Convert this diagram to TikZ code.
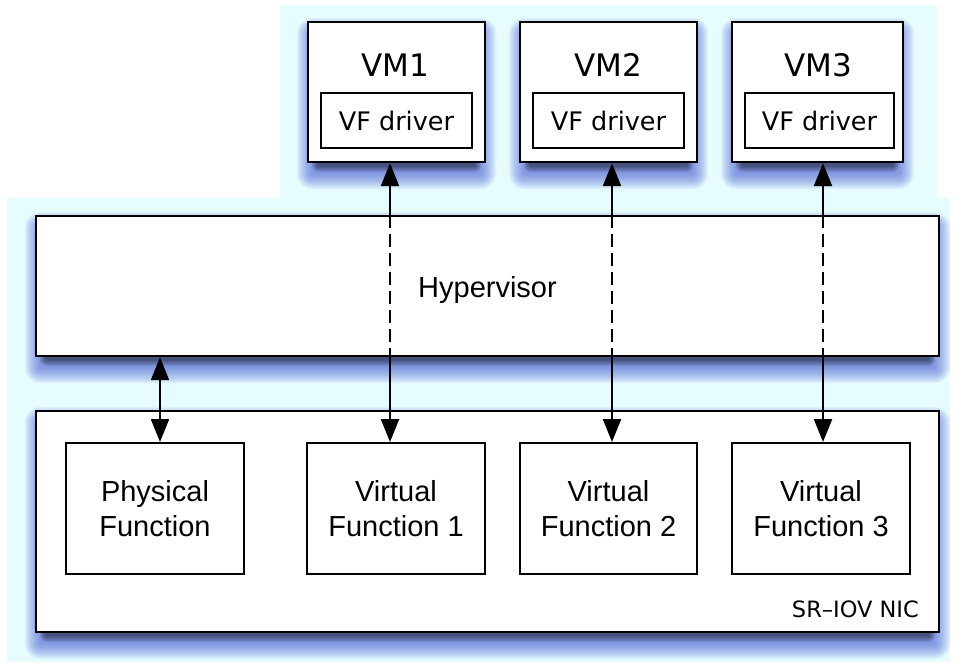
\documentclass[tikz,border=0pt]{standalone}
\usepackage{fontspec}
\setmainfont{Liberation Sans}
\newfontfamily\vera{DejaVu Sans}
\usetikzlibrary{arrows.meta,calc}

\definecolor{glow}{RGB}{230,252,255}
\definecolor{shadeblue}{RGB}{80,100,215}
\definecolor{shadedark}{RGB}{25,30,50}

\pgfdeclarelayer{backdrop}
\pgfdeclarelayer{shadowlayer}
\pgfsetlayers{backdrop,shadowlayer,main}

\tikzset{
  panel/.style={draw=black, line width=2.4pt, fill=white, inner sep=0pt},
  subbox/.style={draw=black, line width=2pt, fill=white, inner sep=0pt},
  link/.style={line width=2.3pt, draw=black},
  tipend/.style={-{Triangle[length=23pt,width=18pt]}},
  tipboth/.style={{Triangle[length=23pt,width=18pt]}-{Triangle[length=23pt,width=18pt]}},
  virt/.style={dash pattern=on 13pt off 6pt},
  helv/.style={font=\fontsize{29}{35}\selectfont, align=center, inner sep=0pt},
  vmtitle/.style={font=\vera\fontsize{31}{34}\selectfont, inner sep=0pt, anchor=base},
  drvtext/.style={font=\vera\fontsize{25.5}{30}\selectfont, inner sep=0pt, anchor=base},
}

% soft drop shadow below a named node: a wide blue haze and a narrow dark core
\newcommand\castshadow[1]{%
  \foreach \r in {1,...,16}{
    \fill[shadeblue, opacity=0.06, rounded corners=\r pt]
      ($(#1.north west)+(6-\r,13-\r)$) rectangle ($(#1.south east)+(-6+\r,10+\r)$);
  }%
  \foreach \r in {1,...,7}{
    \fill[shadedark, opacity=0.11, rounded corners=\r pt]
      ($(#1.south west)+(12-\r,-4)$) rectangle ($(#1.south east)+(-12+\r,2+\r)$);
  }%
}

\begin{document}
\begin{tikzpicture}[x=1pt,y=-1pt]
\useasboundingbox (0,0) rectangle (957,668);

% light glow behind the whole stack
\begin{pgfonlayer}{backdrop}
  \fill[glow] (280,5) rectangle (937,198.5);
  \fill[glow] (7,198) rectangle (950,662);
\end{pgfonlayer}

% virtual machines
\node[panel, minimum width=177pt, minimum height=140pt] (vm1) at (396.5,92) {};
\node[panel, minimum width=177pt, minimum height=140pt] (vm2) at (608.5,92) {};
\node[panel, minimum width=171pt, minimum height=140pt] (vm3) at (817.5,92) {};
\node[vmtitle] (vm1t) at (395,77) {VM1};
\node[vmtitle] (vm2t) at (608.5,77) {VM2};
\node[vmtitle] (vm3t) at (818,77) {VM3};
\node[subbox, minimum width=151pt, minimum height=55pt] (drv1) at (396.5,120.5) {};
\node[subbox, minimum width=151pt, minimum height=55pt] (drv2) at (608.5,120.5) {};
\node[subbox, minimum width=149pt, minimum height=55pt] (drv3) at (819.5,120.5) {};
\node[drvtext] (drv1t) at (396.5,131) {VF driver};
\node[drvtext] (drv2t) at (608.5,131) {VF driver};
\node[drvtext] (drv3t) at (819.5,131) {VF driver};

% hypervisor layer
\node[panel, minimum width=903pt, minimum height=140pt] (hyp) at (487.5,286) {};
\node[helv, anchor=base] (hypt) at (487.5,297) {Hypervisor};

% SR-IOV network card with its functions
\node[panel, minimum width=903pt, minimum height=221pt] (nic) at (487.5,521.5) {};
\node[subbox, minimum width=178pt, minimum height=131pt] (pf) at (155,508.5) {};
\node[subbox, minimum width=178pt, minimum height=131pt] (vf1) at (396,508.5) {};
\node[subbox, minimum width=177pt, minimum height=131pt] (vf2) at (608.5,508.5) {};
\node[subbox, minimum width=178pt, minimum height=131pt] (vf3) at (821,508.5) {};
\node[helv] (pft) at (pf) {Physical\\Function};
\node[helv] (vf1t) at (vf1) {Virtual\\Function 1};
\node[helv] (vf2t) at (vf2) {Virtual\\Function 2};
\node[helv] (vf3t) at (vf3) {Virtual\\Function 3};
\node[font=\vera\fontsize{22.5}{26}\selectfont, inner sep=0pt, anchor=base east] (nict) at (919,617) {SR–IOV NIC};

% shadows
\begin{pgfonlayer}{shadowlayer}
  \castshadow{vm1}
  \castshadow{vm2}
  \castshadow{vm3}
  \castshadow{hyp}
  \castshadow{nic}
\end{pgfonlayer}

% connectors
\coordinate (a0) at (160,0);
\coordinate (a1) at (390,0);
\coordinate (a2) at (612,0);
\coordinate (a3) at (823,0);

\draw[link, tipboth] (a0 |- hyp.south) -- (a0 |- pf.north);

\draw[link, tipend] (a1 |- hyp.north) -- (a1 |- vm1.south);
\draw[link, virt] (a1 |- hyp.north) -- (a1 |- hyp.south);
\draw[link, tipend] (a1 |- hyp.south) -- (a1 |- vf1.north);

\draw[link, tipend] (a2 |- hyp.north) -- (a2 |- vm2.south);
\draw[link, virt] (a2 |- hyp.north) -- (a2 |- hyp.south);
\draw[link, tipend] (a2 |- hyp.south) -- (a2 |- vf2.north);

\draw[link, tipend] (a3 |- hyp.north) -- (a3 |- vm3.south);
\draw[link, virt] (a3 |- hyp.north) -- (a3 |- hyp.south);
\draw[link, tipend] (a3 |- hyp.south) -- (a3 |- vf3.north);
\end{tikzpicture}
\end{document}
